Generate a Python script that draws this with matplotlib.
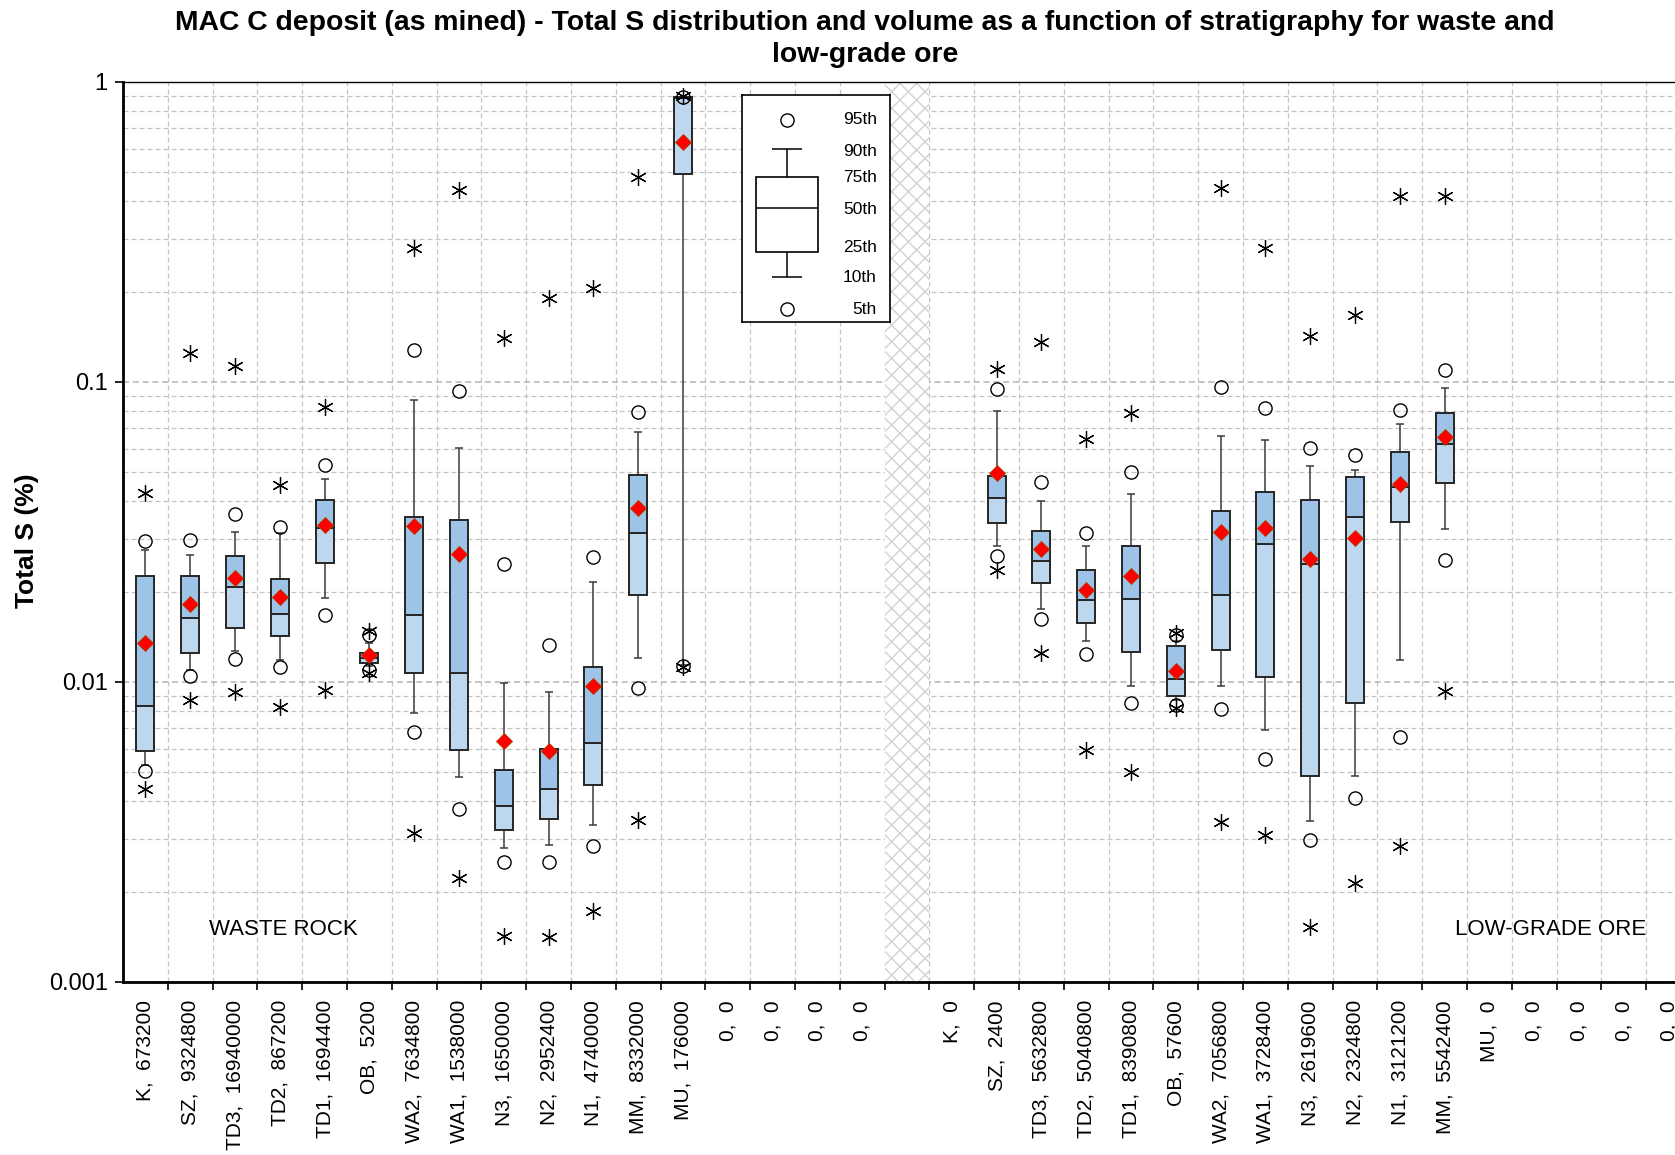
import numpy as np
import matplotlib
matplotlib.use("Agg")
import matplotlib.pyplot as plt
from matplotlib.ticker import FixedLocator, NullFormatter, LogLocator

plt.rcParams['font.family'] = ['Liberation Sans', 'DejaVu Sans']
plt.rcParams['hatch.linewidth'] = 1.0

NaN = np.nan

# ---- Category labels (stratigraphic unit, tonnage) ----
waste_labels = ["K,  673200", "SZ,  9324800", "TD3,  16940000", "TD2,  867200",
                "TD1,  1694400", "OB,  5200", "WA2,  7634800", "WA1,  1538000",
                "N3,  1650000", "N2,  2952400", "N1,  4740000", "MM,  8332000",
                "MU,  176000", "0,  0", "0,  0", "0,  0", "0,  0"]
ore_labels = ["K,  0", "SZ,  2400", "TD3,  5632800", "TD2,  5040800",
              "TD1,  8390800", "OB,  57600", "WA2,  7056800", "WA1,  3728400",
              "N3,  2619600", "N2,  2324800", "N1,  3121200", "MM,  5542400",
              "MU,  0", "0,  0", "0,  0", "0,  0", "0,  0"]

# ---- Waste rock: Total S (%) statistics per unit ----
waste_min  = [0.0044, 0.00872, 0.00929, 0.00827, 0.00942, 0.0107, 0.00315, 0.00222, 0.00142, 0.00141, 0.00172, 0.00346, 0.0112, NaN, NaN, NaN, NaN]
waste_p05  = [0.00505, 0.01051, 0.01189, 0.01125, 0.0167, 0.0110, 0.00681, 0.00376, 0.00252, 0.00252, 0.00283, 0.00954, 0.0113, NaN, NaN, NaN, NaN]
waste_p10  = [0.0053, 0.0110, 0.01273, 0.0118, 0.01905, 0.0113, 0.00788, 0.00481, 0.00279, 0.00287, 0.00334, 0.01205, 0.0114, NaN, NaN, NaN, NaN]
waste_p25  = [0.00587, 0.01252, 0.01513, 0.01428, 0.0249, 0.0116, 0.01071, 0.00594, 0.00321, 0.00349, 0.00455, 0.01957, 0.492, NaN, NaN, NaN, NaN]
waste_p50  = [0.00832, 0.01629, 0.02074, 0.0168, 0.0326, 0.0120, 0.01674, 0.01068, 0.00386, 0.0044, 0.00624, 0.0313, 0.885, NaN, NaN, NaN, NaN]
waste_p75  = [0.0226, 0.0226, 0.0264, 0.0220, 0.0405, 0.0125, 0.0355, 0.0348, 0.00508, 0.00599, 0.01122, 0.049, 0.888, NaN, NaN, NaN, NaN]
waste_p90  = [0.0275, 0.02646, 0.0316, 0.0313, 0.0476, 0.0135, 0.0871, 0.0602, 0.00995, 0.00929, 0.0215, 0.0681, 0.890, NaN, NaN, NaN, NaN]
waste_p95  = [0.0294, 0.0298, 0.0363, 0.0329, 0.0527, 0.0143, 0.1274, 0.0935, 0.0247, 0.01326, 0.0262, 0.0794, 0.893, NaN, NaN, NaN, NaN]
waste_max  = [0.0427, 0.1254, 0.1127, 0.0453, 0.0827, 0.0148, 0.280, 0.4365, 0.1399, 0.1905, 0.205, 0.4835, 0.895, NaN, NaN, NaN, NaN]
waste_mean = [0.01352, 0.01817, 0.0222, 0.01915, 0.0334, 0.01228, 0.0332, 0.0268, 0.00637, 0.00587, 0.00968, 0.0381, 0.631, NaN, NaN, NaN, NaN]

# ---- Low-grade ore: Total S (%) statistics per unit ----
ore_min  = [NaN, 0.02365, 0.0125, 0.00595, 0.00502, 0.0082, 0.00341, 0.00308, 0.00152, 0.00213, 0.00284, 0.00934, NaN, NaN, NaN, NaN, NaN]
ore_p05  = [NaN, 0.0264, 0.01625, 0.01243, 0.00851, 0.00838, 0.0081, 0.00554, 0.00297, 0.00409, 0.00654, 0.0256, NaN, NaN, NaN, NaN, NaN]
ore_p10  = [NaN, 0.0285, 0.0175, 0.01365, 0.00972, 0.00872, 0.00972, 0.0069, 0.00343, 0.00486, 0.0118, 0.0324, NaN, NaN, NaN, NaN, NaN]
ore_p25  = [NaN, 0.0338, 0.02133, 0.01573, 0.0126, 0.0090, 0.01276, 0.01037, 0.00486, 0.00853, 0.0342, 0.0462, NaN, NaN, NaN, NaN, NaN]
ore_p50  = [NaN, 0.041, 0.0253, 0.0188, 0.0189, 0.01023, 0.01954, 0.0288, 0.0248, 0.0356, 0.0447, 0.0621, NaN, NaN, NaN, NaN, NaN]
ore_p75  = [NaN, 0.0486, 0.0319, 0.0237, 0.0285, 0.0132, 0.0371, 0.0431, 0.0403, 0.0481, 0.0586, 0.0791, NaN, NaN, NaN, NaN, NaN]
ore_p90  = [NaN, 0.0798, 0.0401, 0.0283, 0.0423, 0.0137, 0.0661, 0.0642, 0.0524, 0.0508, 0.0725, 0.0957, NaN, NaN, NaN, NaN, NaN]
ore_p95  = [NaN, 0.0950, 0.0465, 0.0314, 0.05007, 0.0143, 0.0962, 0.0818, 0.0602, 0.0572, 0.0807, 0.110, NaN, NaN, NaN, NaN, NaN]
ore_max  = [NaN, 0.1102, 0.1355, 0.0646, 0.079, 0.01462, 0.443, 0.280, 0.1427, 0.1668, 0.418, 0.418, NaN, NaN, NaN, NaN, NaN]
ore_mean = [NaN, 0.0499, 0.0277, 0.0202, 0.0225, 0.01085, 0.0317, 0.0326, 0.0257, 0.0303, 0.0456, 0.0654, NaN, NaN, NaN, NaN, NaN]

y_ticks = [0.001, 0.01, 0.1, 1]
y_tick_labels = ["0.001", "0.01", "0.1", "1"]

LIGHT = "#BDD7EE"
DARK = "#9DC3E6"
EDGE = "#262626"
WHISK = "#3a3a3a"
GRID = "#c4c4c4"
BOX_W = 0.40
CAP_W = 0.18

W, H = 1675, 1155
fig = plt.figure(figsize=(W / 100, H / 100), dpi=100)
fig.patch.set_facecolor("white")
ax = fig.add_axes([123 / W, 173 / H, 1568 / W, 900 / H])

n_waste = len(waste_labels)
n_ore = len(ore_labels)
gap = 1
n_slots = n_waste + gap + n_ore
ax.set_xlim(-0.5, n_slots - 0.5)
ax.set_yscale("log")
ax.set_ylim(0.001, 1)


def draw_group(offset, mn, p05, p10, p25, p50, p75, p90, p95, mx, mean):
    for i in range(len(mn)):
        if np.isnan(p50[i]):
            continue
        x = offset + i
        # whiskers (10th-90th) with caps
        ax.vlines(x, p75[i], p90[i], color=WHISK, lw=1.1, zorder=3)
        ax.vlines(x, p10[i], p25[i], color=WHISK, lw=1.1, zorder=3)
        ax.hlines([p10[i], p90[i]], x - CAP_W / 2, x + CAP_W / 2, color=WHISK, lw=1.1, zorder=3)
        # interquartile box split at the median
        ax.bar(x, p50[i] - p25[i], bottom=p25[i], width=BOX_W, color=LIGHT,
               edgecolor=EDGE, linewidth=1.4, zorder=4)
        ax.bar(x, p75[i] - p50[i], bottom=p50[i], width=BOX_W, color=DARK,
               edgecolor=EDGE, linewidth=1.4, zorder=4)
        # 5th / 95th percentiles
        ax.plot([x, x], [p05[i], p95[i]], ls="none", marker="o", ms=9.5,
                mfc="none", mec="black", mew=1.0, zorder=5)
        # minimum / maximum
        ax.plot([x, x], [mn[i], mx[i]], ls="none", marker=(6, 2, 0), ms=12,
                mec="black", mew=0.9, zorder=5)
        # mean
        ax.plot(x, mean[i], ls="none", marker="D", ms=8.5, mfc="#FF0000",
                mec="#B04000", mew=0.6, zorder=6)


draw_group(0, waste_min, waste_p05, waste_p10, waste_p25, waste_p50,
           waste_p75, waste_p90, waste_p95, waste_max, waste_mean)
draw_group(n_waste + gap, ore_min, ore_p05, ore_p10, ore_p25, ore_p50,
           ore_p75, ore_p90, ore_p95, ore_max, ore_mean)

# separator between waste rock and low-grade ore
ax.axvspan(n_waste - 0.5, n_waste + gap - 0.5, facecolor="white",
           edgecolor="#d2d2d2", hatch="xx", linewidth=0, zorder=1.5)

# x axis: ticks on category boundaries, labels on category centres
bounds = np.arange(0.5, n_slots - 0.5, 1.0)
ax.xaxis.set_major_locator(FixedLocator(bounds))
ax.xaxis.set_major_formatter(NullFormatter())
centers = list(range(n_waste)) + list(range(n_waste + gap, n_slots))
ax.set_xticks(centers, waste_labels + ore_labels, minor=True)
ax.tick_params(axis="x", which="major", direction="out", length=6, width=1.2, color="black")
ax.tick_params(axis="x", which="minor", length=0, pad=13, labelsize=15, labelrotation=90)
for lbl in ax.get_xticklabels(minor=True):
    lbl.set_va("top")
    lbl.set_ha("center")

# y axis
ax.set_yticks(y_ticks, y_tick_labels)
ax.yaxis.set_minor_locator(LogLocator(base=10, subs=np.arange(2, 10)))
ax.yaxis.set_minor_formatter(NullFormatter())
ax.tick_params(axis="y", which="major", direction="out", length=6, width=1.2, pad=5, labelsize=17)
ax.tick_params(axis="y", which="minor", length=0)

# dashed grid
ax.set_axisbelow(True)
ax.grid(axis="x", which="major", color=GRID, lw=0.9, ls=(0, (4, 2.4)))
ax.grid(axis="y", which="major", color="#b4b4b4", lw=1.1, ls=(0, (4, 2.4)))
ax.grid(axis="y", which="minor", color=GRID, lw=0.9, ls=(0, (4, 2.4)))

for side in ("left", "bottom"):
    ax.spines[side].set_linewidth(2.0)
    ax.spines[side].set_color("black")
ax.spines["top"].set_linewidth(1.0)
ax.spines["right"].set_visible(False)

fig.text(27 / W, 1 - 541 / H, "Total S (%)", rotation=90, ha="center", va="center",
         fontsize=19, fontweight="bold")

ax.text(3.07, 0.00150, "WASTE ROCK", fontsize=16, ha="center", va="center", zorder=7)
ax.text(31.37, 0.00150, "LOW-GRADE ORE", fontsize=16, ha="center", va="center", zorder=7)

fig.text(865 / W, 1 - 39 / H,
         "MAC C deposit (as mined) - Total S distribution and volume as a function of stratigraphy for waste and\nlow-grade ore",
         ha="center", va="center", fontsize=20.4, fontweight="bold", linespacing=1.32)

# key explaining the box-plot symbols
lg = fig.add_axes([742 / W, (H - 322) / H, 148 / W, 227 / H])
lg.set_xlim(0, 148)
lg.set_ylim(227, 0)
lg.set_xticks([])
lg.set_yticks([])
for s in lg.spines.values():
    s.set_linewidth(1.2)
    s.set_color("black")
bx = 45
lg.plot([bx, bx], [25, 214], ls="none", marker="o", ms=9.5, mfc="none", mec="black", mew=1.0)
lg.vlines(bx, 54, 82, color="black", lw=1.1)
lg.vlines(bx, 157, 182, color="black", lw=1.1)
lg.hlines([54, 182], bx - 15, bx + 15, color="black", lw=1.1)
lg.add_patch(plt.Rectangle((14, 82), 62, 75, fc="white", ec="black", lw=1.2))
lg.hlines(113, 14, 76, color="black", lw=1.1)
key_labels = ["95th", "90th", "75th", "50th", "25th", "10th", "5th"]
key_y = [25, 57, 82, 114, 153, 182, 214]
for t, yy in zip(key_labels, key_y):
    lg.text(135, yy, t, ha="right", va="center", fontsize=12.5)

fig.savefig("out.png", dpi=100)
